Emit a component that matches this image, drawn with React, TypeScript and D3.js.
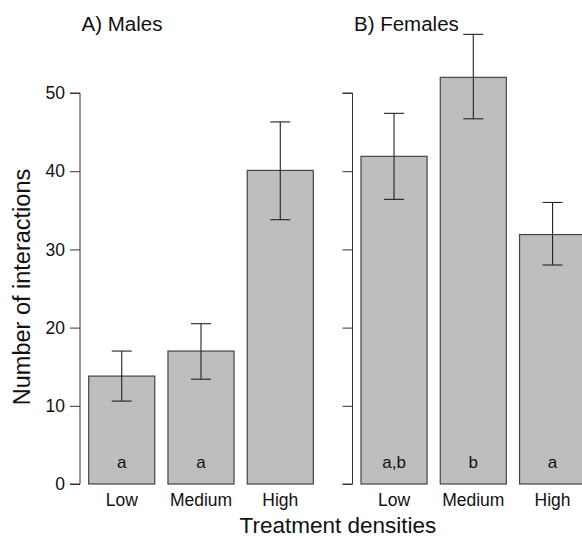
import React, { useEffect, useRef } from "react";
import * as d3 from "d3";

const categories = ["Low", "Medium", "High"];
const maleMeans = [13.8, 17.0, 40.1];
const maleLower = [10.6, 13.4, 33.8];
const maleUpper = [17.0, 20.5, 46.3];
const maleLetters = ["a", "a", ""];
const femaleMeans = [41.9, 52.0, 31.9];
const femaleLower = [36.4, 46.7, 28.0];
const femaleUpper = [47.4, 57.5, 36.0];
const femaleLetters = ["a,b", "b", "a"];
const yTicks = [0, 10, 20, 30, 40, 50];

const font = "'Liberation Sans', Arial, Helvetica, sans-serif";

export default function App() {
  const ref = useRef<SVGSVGElement>(null);

  useEffect(() => {
    const svg = d3.select(ref.current);
    svg.selectAll("*").remove();

    const y = d3.scaleLinear().domain([0, 50]).range([484, 93]);

    const panels = [
      { title: "A) Males", axisX: 80, range: [88.7, 313.3], means: maleMeans, lo: maleLower, hi: maleUpper, letters: maleLetters, labels: true },
      { title: "B) Females", axisX: 352.5, range: [361, 585.6], means: femaleMeans, lo: femaleLower, hi: femaleUpper, letters: femaleLetters, labels: false },
    ];

    panels.forEach(p => {
      const x = d3.scaleBand<string>()
        .domain(categories)
        .range(p.range as [number, number])
        .paddingInner(1 / 6)
        .paddingOuter(0);

      // y axis
      const ax = svg.append("g")
        .attr("transform", `translate(${p.axisX},0)`)
        .call(d3.axisLeft(y).tickValues(yTicks).tickSize(10).tickPadding(5)
          .tickFormat(p.labels ? (d3.format("d") as any) : () => ""));
      ax.select(".domain").attr("d", `M-10,${y(50)}H0V${y(0)}H-10`).attr("stroke", "#333");
      ax.selectAll(".tick line").attr("stroke", "#333");
      ax.selectAll(".tick text").attr("font-family", font).attr("font-size", 17.5).attr("fill", "#111");

      const g = svg.append("g");
      categories.forEach((c, i) => {
        const x0 = x(c)!;
        const cx = x0 + x.bandwidth() / 2;
        g.append("rect")
          .attr("x", x0).attr("y", y(p.means[i]))
          .attr("width", x.bandwidth()).attr("height", y(0) - y(p.means[i]))
          .attr("fill", "#bebebe").attr("stroke", "#444").attr("stroke-width", 1.2);
        g.append("line")
          .attr("x1", cx).attr("x2", cx).attr("y1", y(p.lo[i])).attr("y2", y(p.hi[i]))
          .attr("stroke", "#222").attr("stroke-width", 1.1);
        [p.lo[i], p.hi[i]].forEach(v => {
          g.append("line")
            .attr("x1", cx - 10).attr("x2", cx + 10).attr("y1", y(v)).attr("y2", y(v))
            .attr("stroke", "#222").attr("stroke-width", 1.1);
        });
        if (p.letters[i]) {
          g.append("text")
            .attr("x", cx).attr("y", 467.5).attr("text-anchor", "middle")
            .attr("font-family", font).attr("font-size", 17).attr("fill", "#111")
            .text(p.letters[i]);
        }
        g.append("text")
          .attr("x", cx).attr("y", 505.5).attr("text-anchor", "middle")
          .attr("font-family", font).attr("font-size", 17.5).attr("fill", "#111")
          .text(c);
      });

      svg.append("text")
        .attr("x", p.axisX + 1.5).attr("y", 31)
        .attr("font-family", font).attr("font-size", 20.5).attr("fill", "#111")
        .text(p.title);
    });

    svg.append("text")
      .attr("x", 338).attr("y", 533)
      .attr("text-anchor", "middle")
      .attr("font-family", font).attr("font-size", 22.5).attr("fill", "#111")
      .text("Treatment densities");

    svg.append("text")
      .attr("transform", `translate(30,287) rotate(-90)`)
      .attr("text-anchor", "middle")
      .attr("font-family", font).attr("font-size", 23.5).attr("fill", "#111")
      .text("Number of interactions");
  }, []);

  return (
    <svg ref={ref} width={582} height={540}
      style={{ position: "absolute", left: 0, top: 0, background: "#fff" }} />
  );
}
